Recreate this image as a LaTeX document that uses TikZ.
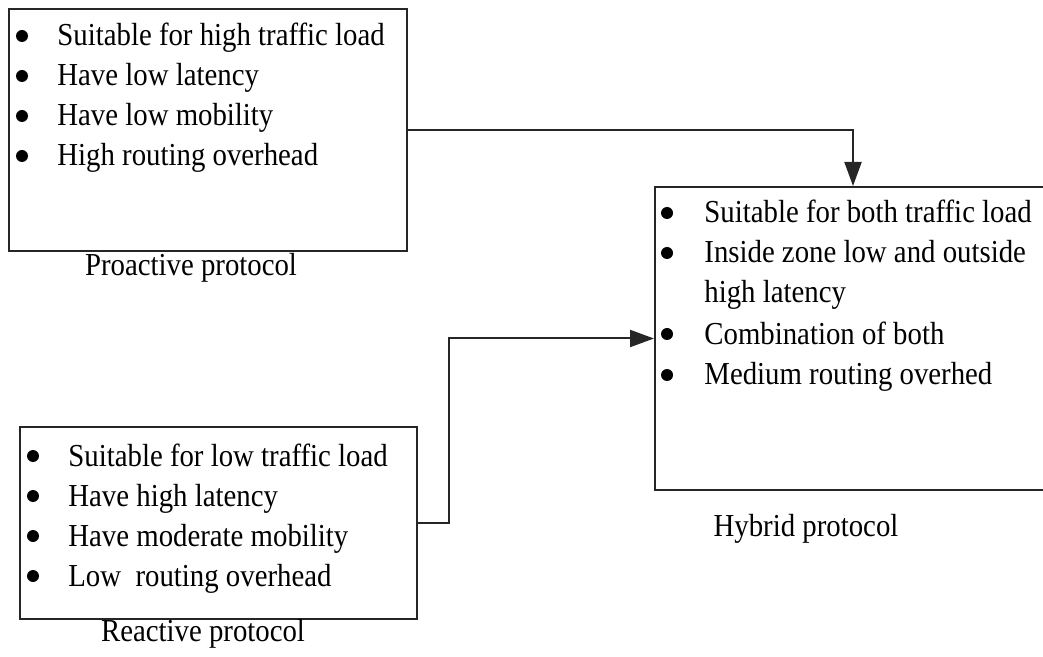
\documentclass[tikz,border=0pt]{standalone}
\usepackage{fontspec}
\setmainfont[FakeStretch=0.9]{Liberation Serif}
\usetikzlibrary{arrows.meta}
\begin{document}
\begin{tikzpicture}[x=0.5pt,y=-0.5pt,
  boxst/.style={draw=black!85, line width=1pt, rectangle, inner sep=0pt},
  item/.style={anchor=base west, inner sep=0pt, font=\fontsize{16}{19}\selectfont},
  bul/.style={circle, fill=black, inner sep=0pt, minimum size=6pt},
  lab/.style={anchor=base, inner sep=0pt, font=\fontsize{16}{19}\selectfont},
  conn/.style={draw=black!85, line width=1pt, -{Triangle[length=12pt,width=8.5pt]}}]
\useasboundingbox (0,0) rectangle (1043,657);
\begin{scope}
\clip (0,0) rectangle (1043,657);
% boxes
\node[boxst, minimum width=199pt, minimum height=121pt] (pro) at (208,130) {};
\node[boxst, minimum width=198pt, minimum height=151.5pt] (hyb) at (853,338.5) {};
\node[boxst, minimum width=198.5pt, minimum height=96pt] (rea) at (218.5,523) {};
\end{scope}
% proactive items
\node[bul] (pb1) at (22,36) {};
\node[item] (pt1) at (57,46) {Suitable for high traffic load};
\node[bul] (pb2) at (22,76) {};
\node[item] (pt2) at (57,86) {Have low latency};
\node[bul] (pb3) at (22,116) {};
\node[item] (pt3) at (57,126) {Have low mobility};
\node[bul] (pb4) at (22,156) {};
\node[item] (pt4) at (57,166) {High routing overhead};
\node[lab] (plab) at (191,276) {Proactive protocol};
% hybrid items
\node[bul] (hb1) at (667,213) {};
\node[item] (ht1) at (704,223) {Suitable for both traffic load};
\node[bul] (hb2) at (667,253) {};
\node[item] (ht2) at (704,263) {Inside zone low and outside};
\node[item] (ht2b) at (704,303) {high latency};
\node[bul] (hb3) at (667,334) {};
\node[item] (ht3) at (704,344) {Combination of both};
\node[bul] (hb4) at (667,375) {};
\node[item] (ht4) at (704,385) {Medium routing overhed};
\node[lab] (hlab) at (806,536) {Hybrid protocol};
% reactive items
\node[bul] (rb1) at (33,456) {};
\node[item] (rt1) at (68,466) {Suitable for low traffic load};
\node[bul] (rb2) at (33,496) {};
\node[item] (rt2) at (68,506) {Have high latency};
\node[bul] (rb3) at (33,536) {};
\node[item] (rt3) at (68,546) {Have moderate mobility};
\node[bul] (rb4) at (33,576) {};
\node[item] (rt4) at (68,586) {Low \ routing overhead};
\node[lab] (rlab) at (203,641) {Reactive protocol};
% connectors
\coordinate (bend) at (449,523);
\draw[conn] (pro.east) -| (hyb.north);
\draw[conn] (rea.east) -- (bend) |- (hyb.west);
\end{tikzpicture}
\end{document}
